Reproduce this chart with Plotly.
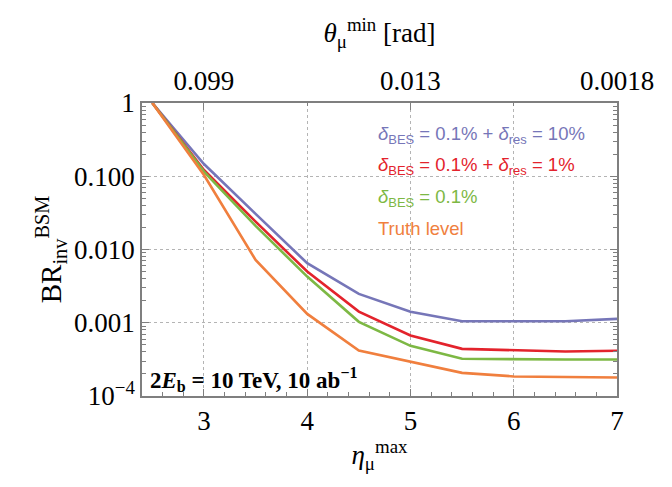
import plotly.graph_objects as go

eta = [2.5, 3.0, 3.5, 4.0, 4.5, 5.0, 5.5, 6.0, 6.5, 7.0]
br_res10 = [1.0, 0.147, 0.0306, 0.0065, 0.00248, 0.00141, 0.00105, 0.00105, 0.00105, 0.00113]
br_res1 = [1.0, 0.122, 0.0240, 0.0050, 0.00142, 0.00067, 0.00044, 0.000427, 0.000405, 0.000414]
br_bes = [1.0, 0.1156, 0.0210, 0.00427, 0.00103, 0.000484, 0.000322, 0.000315, 0.000315, 0.000315]
br_truth = [1.0, 0.104, 0.0072, 0.00132, 0.000418, 0.000293, 0.000207, 0.000185, 0.000182, 0.000179]

series_names = ["δBES = 0.1% + δres = 10%", "δBES = 0.1% + δres = 1%", "δBES = 0.1%", "Truth level"]
legend_labels = [
    "<i>δ</i><sub>BES</sub> = 0.1% + <i>δ</i><sub>res</sub> = 10%",
    "<i>δ</i><sub>BES</sub> = 0.1% + <i>δ</i><sub>res</sub> = 1%",
    "<i>δ</i><sub>BES</sub> = 0.1%",
    "Truth level",
]
colors = ["#7676b8", "#e3232c", "#7db844", "#f07f3e"]

x_ticks = [3, 4, 5, 6, 7]
y_tickvals = [1, 0.1, 0.01, 0.001, 0.0001]
y_ticktext = ["1", "0.100", "0.010", "0.001", "10<sup>−4</sup>"]
top_tickvals = [3, 5, 7]
top_ticktext = ["0.099", "0.013", "0.0018"]

serif = "Liberation Serif"
sans = "Liberation Sans"
frame = "#7f7f7f"
grid = "#b4b4b4"

fig = go.Figure()
for ys, c, n in zip([br_res10, br_res1, br_bes, br_truth], colors, series_names):
    fig.add_trace(go.Scatter(x=eta, y=ys, mode="lines", line=dict(color=c, width=2.6),
                             name=n, showlegend=False, cliponaxis=True))

# invisible trace that carries the top (θ) axis
fig.add_trace(go.Scatter(x=[eta[0]], y=[br_truth[0]], xaxis="x2", mode="markers",
                         marker=dict(opacity=0), showlegend=False, hoverinfo="skip"))

xr = [2.4, 7.0]
fig.update_layout(
    width=672, height=487,
    margin=dict(l=142, r=55, t=103, b=91),
    paper_bgcolor="white", plot_bgcolor="white",
    font=dict(family=serif, size=27, color="black"),
    xaxis=dict(
        range=xr, tickvals=x_ticks, ticks="inside", ticklen=7, tickcolor=frame,
        showline=True, linecolor=frame, linewidth=1.5, mirror=False,
        showgrid=True, gridcolor=grid, griddash="dot", gridwidth=1,
        zeroline=False,
        minor=dict(dtick=0.2, ticks="inside", ticklen=4, tickcolor=frame, showgrid=False),
        title=dict(text="<i>η</i><sub>μ</sub><sup>max</sup>", font=dict(size=27), standoff=4),
    ),
    xaxis2=dict(
        range=xr, overlaying="x", side="top", tickvals=top_tickvals, ticktext=top_ticktext,
        ticks="inside", ticklen=7, tickcolor=frame,
        showline=True, linecolor=frame, linewidth=1.5, showgrid=False, zeroline=False,
        minor=dict(tickvals=[4, 6], ticks="inside", ticklen=3, tickcolor=frame),
        title=dict(text="<i>θ</i><sub>μ</sub><sup>min</sup> [rad]", font=dict(size=27), standoff=16),
    ),
    yaxis=dict(
        type="log", range=[-4, 0], tickvals=y_tickvals, ticktext=y_ticktext,
        ticks="inside", ticklen=7, tickcolor=frame,
        showline=True, linecolor=frame, linewidth=1.5, mirror="ticks",
        showgrid=True, gridcolor=grid, griddash="dot", gridwidth=1,
        zeroline=False,
        minor=dict(dtick="D1", ticks="inside", ticklen=4, tickcolor=frame, showgrid=False),
        title=dict(text="BR<sub>inv</sub><sup>BSM</sup>", font=dict(size=29), standoff=4),
    ),
)

legend_y = [0.891, 0.785, 0.676, 0.573]
for lab, c, yy in zip(legend_labels, colors, legend_y):
    fig.add_annotation(xref="paper", yref="paper", x=0.492, y=yy, xanchor="left", yanchor="middle",
                       text=lab, showarrow=False, font=dict(family=sans, size=18.5, color=c))

fig.add_annotation(xref="paper", yref="paper", x=0.012, y=0.055, xanchor="left", yanchor="middle",
                   text="<b>2<i>E</i><sub>b</sub> = 10 TeV, 10 ab<sup>−1</sup></b>", showarrow=False,
                   font=dict(family=serif, size=23, color="black"))

fig.write_html("out.html")
